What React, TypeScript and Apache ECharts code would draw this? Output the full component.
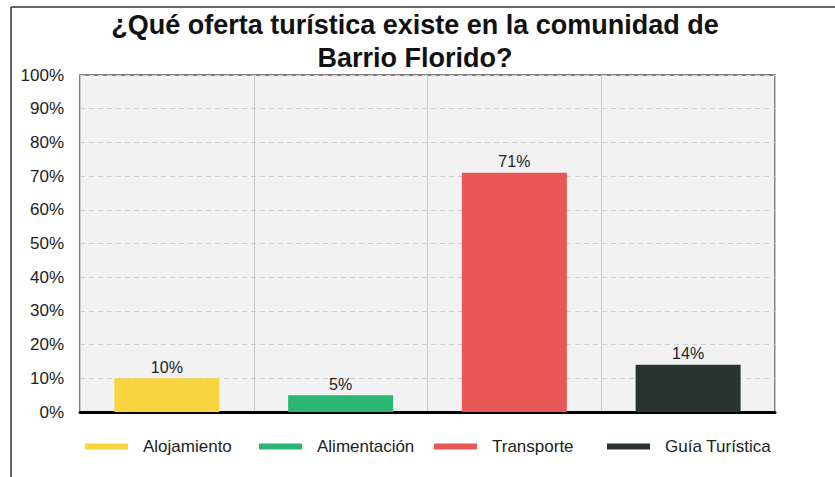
import React, { useEffect, useRef } from "react";
import * as echarts from "echarts";

const categories = ["Alojamiento", "Alimentación", "Transporte", "Guía Turística"];
const values = [10, 5, 71, 14];
const colors = ["#F8D53E", "#2BB673", "#E85656", "#29332F"];
const legendLeft = [80, 254, 429, 602];
const titleText = "¿Qué oferta turística existe en la comunidad de\nBarrio Florido?";

const FONT = "'Liberation Sans', Arial, sans-serif";

export default function App() {
  const ref = useRef<HTMLDivElement>(null);
  useEffect(() => {
    if (!ref.current) return;
    const chart = echarts.init(ref.current, undefined, { renderer: "svg" });
    const series = categories.map((name, i) => ({
      name,
      type: "bar",
      barWidth: 105,
      barGap: "-100%",
      itemStyle: { color: colors[i] },
      data: categories.map((_, j) => (j === i ? values[i] : "-")),
      label: {
        show: true,
        position: "top",
        distance: 3,
        formatter: "{c}%",
        fontSize: 16,
        color: "#222",
        fontFamily: FONT,
      },
    }));
    chart.setOption({
      animation: false,
      backgroundColor: "#fff",
      textStyle: { fontFamily: FONT },
      title: {
        text: titleText,
        left: 410,
        textAlign: "center",
        top: 3,
        textStyle: {
          fontSize: 27,
          fontWeight: "bold",
          color: "#111",
          lineHeight: 33,
          fontFamily: FONT,
        },
      },
      graphic: [
        { type: "line", shape: { x1: 11, y1: 7, x2: 835, y2: 7 }, style: { stroke: "#333", lineWidth: 1.5 } },
        { type: "line", shape: { x1: 11, y1: 7, x2: 11, y2: 477 }, style: { stroke: "#333", lineWidth: 1.5 } },
      ],
      legend: categories.map((name, i) => ({
        data: [name],
        left: legendLeft[i],
        top: 433,
        icon: "rect",
        itemWidth: 43,
        itemHeight: 6,
        selectedMode: false,
        textStyle: {
          fontSize: 17,
          color: "#222",
          fontFamily: FONT,
          padding: [0, 0, 0, 10],
        },
      })),
      grid: {
        left: 80,
        right: 60,
        top: 75,
        bottom: 65,
        show: true,
        backgroundColor: "#F2F2F2",
        borderColor: "#555",
        borderWidth: 1.5,
      },
      xAxis: {
        type: "category",
        data: categories,
        axisLine: { show: true, lineStyle: { color: "#000", width: 3 } },
        axisTick: { show: false },
        axisLabel: { show: false },
        splitLine: { show: true, lineStyle: { color: "#C8C8C8", width: 1 } },
      },
      yAxis: {
        type: "value",
        min: 0,
        max: 100,
        interval: 10,
        axisLine: { show: false },
        axisTick: { show: false },
        axisLabel: {
          formatter: "{value}%",
          fontSize: 17,
          color: "#222",
          margin: 16,
          fontFamily: FONT,
        },
        splitLine: { show: true, lineStyle: { color: "#CFCFCF", type: [5, 4], width: 1 } },
      },
      series,
    });
    return () => chart.dispose();
  }, []);
  return (
    <div
      ref={ref}
      style={{ position: "fixed", left: 0, top: 0, width: 835, height: 477 }}
    />
  );
}
